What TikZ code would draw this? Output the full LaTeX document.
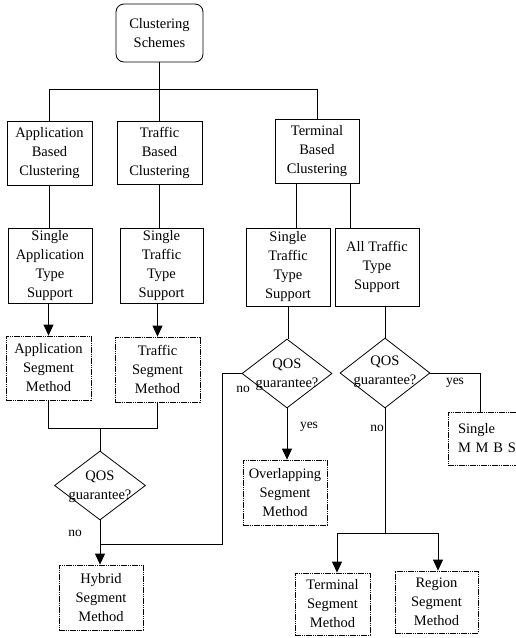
\documentclass[tikz,border=0pt]{standalone}
\usepackage{fontspec}
\setmainfont{Liberation Serif}
\usetikzlibrary{shapes.geometric,arrows.meta}
\begin{document}
\begin{tikzpicture}[x=1pt,y=-1pt,
  every node/.style={font=\fontsize{14.5}{19}\selectfont, align=center, inner sep=0pt},
  solidbox/.style={draw, line width=0.8pt, rectangle},
  dotbox/.style={draw, line width=0.8pt, rectangle, dash pattern=on 1.6pt off 0.6pt},
  decision/.style={draw, line width=0.8pt, diamond, inner sep=0pt},
  conn/.style={line width=0.8pt},
  arr/.style={line width=0.8pt, -{Triangle[length=11pt,width=10pt]}},
  lbl/.style={font=\fontsize{13.5}{16}\selectfont}
]
\useasboundingbox (0,0) rectangle (516,638);
% level 0
\node[solidbox, rounded corners=8pt, minimum width=87pt, minimum height=58pt] (root) at (159.5,33) {Clustering\\Schemes};
% level 1
\node[solidbox, minimum width=85pt, minimum height=64pt] (abc) at (49.5,153) {Application\\Based\\Clustering};
\node[solidbox, minimum width=85pt, minimum height=63pt] (tbc) at (159.5,152.5) {Traffic\\Based\\Clustering};
\node[solidbox, minimum width=84pt, minimum height=64pt] (termbc) at (317,151) {Terminal\\Based\\Clustering};
% level 2
\node[solidbox, minimum width=84pt, minimum height=75pt] (sats) at (50,265.5) {Single\\Application\\Type\\Support};
\node[solidbox, minimum width=83pt, minimum height=75pt] (stts) at (161.5,265.5) {Single\\Traffic\\Type\\Support};
\node[solidbox, minimum width=84pt, minimum height=78pt] (stts3) at (288,267) {Single\\Traffic\\Type\\Support};
\node[solidbox, minimum width=84pt, minimum height=78pt] (atts) at (377,267) {All Traffic\\Type\\Support};
% level 3
\node[dotbox, minimum width=85pt, minimum height=64pt] (asm) at (48.5,368) {Application\\Segment\\Method};
\node[dotbox, minimum width=85pt, minimum height=65pt] (tsm) at (157.5,369.5) {Traffic\\Segment\\Method};
\node[decision, minimum width=90pt, minimum height=69pt] (d2) at (287,373.5) {};
\node (d2t) at (287,375) {QOS\\guarantee?};
\node[decision, minimum width=90pt, minimum height=70pt] (d3) at (385,373) {};
\node (d3t) at (385,372) {QOS\\guarantee?};
\node[dotbox, minimum width=90pt, minimum height=53pt, text width=70pt, inner xsep=10pt, align=left] (mmbs) at (493,438.5) {Single\\M M B S};
% level 4
\node[decision, minimum width=91pt, minimum height=69pt] (d1) at (100,485.5) {};
\node (d1t) at (100,487) {QOS\\guarantee?};
\node[dotbox, minimum width=84pt, minimum height=65pt] (osm) at (285,492.5) {Overlapping\\Segment\\Method};
% level 5
\node[dotbox, minimum width=84pt, minimum height=65pt] (hsm) at (101,597.5) {Hybrid\\Segment\\Method};
\node[dotbox, minimum width=75pt, minimum height=62pt] (tstm) at (332.5,604) {Terminal\\Segment\\Method};
\node[dotbox, minimum width=83pt, minimum height=62pt] (rsm) at (436.5,602) {Region\\Segment\\Method};

% junction coordinates
\coordinate (j0) at (159.5,89);
\coordinate (j1) at (100,428);
\coordinate (j2) at (222,544);
\coordinate (j3) at (385,533);

% connectors
\draw[conn] (root.south) -- (j0);
\draw[conn] (abc.north) -- (abc.north |- j0) -- (termbc.north |- j0) -- (termbc.north);
\draw[conn] (tbc.north) -- (j0);
\draw[conn] (abc.south) -- (abc.south |- sats.north);
\draw[conn] (tbc.south) -- (tbc.south |- stts.north);
\draw[conn] ([xshift=-21pt]termbc.south) -- ([xshift=-21pt]termbc.south |- stts3.north);
\draw[conn] ([xshift=33pt]termbc.south) -- ([xshift=33pt]termbc.south |- atts.north);
\draw[arr] (asm.north |- sats.south) -- (asm.north);
\draw[arr] (tsm.north |- stts.south) -- (tsm.north);
\draw[conn] (asm.south) -- (asm.south |- j1) -- (tsm.south |- j1) -- (tsm.south);
\draw[conn] (j1) -- (d1.north);
\draw[arr] (d1.south) -- (d1.south |- hsm.north);
\draw[conn] (d2.west) -| (j2) -- (j2 -| d1.south);
\draw[conn] (stts3.south) -- (stts3.south |- d2.north);
\draw[arr] (d2.south) -- (d2.south |- osm.north);
\draw[conn] (d3.north |- atts.south) -- (d3.north);
\draw[conn] (d3.east) -| ([xshift=-13pt]mmbs.north);
\draw[conn] (d3.south) -- (j3);
\draw[conn] ([xshift=4.5pt]tstm.north |- j3) -- ([xshift=1.5pt]rsm.north |- j3);
\draw[arr] ([xshift=4.5pt]tstm.north |- j3) -- ([xshift=4.5pt]tstm.north);
\draw[arr] ([xshift=1.5pt]rsm.north |- j3) -- ([xshift=1.5pt]rsm.north);

% labels
\node[lbl] (l1) at (75,533) {no};
\node[lbl] (l2) at (243,389) {no};
\node[lbl] (l3) at (309,427) {yes};
\node[lbl] (l4) at (455,383) {yes};
\node[lbl] (l5) at (377,428) {no};
\end{tikzpicture}
\end{document}
